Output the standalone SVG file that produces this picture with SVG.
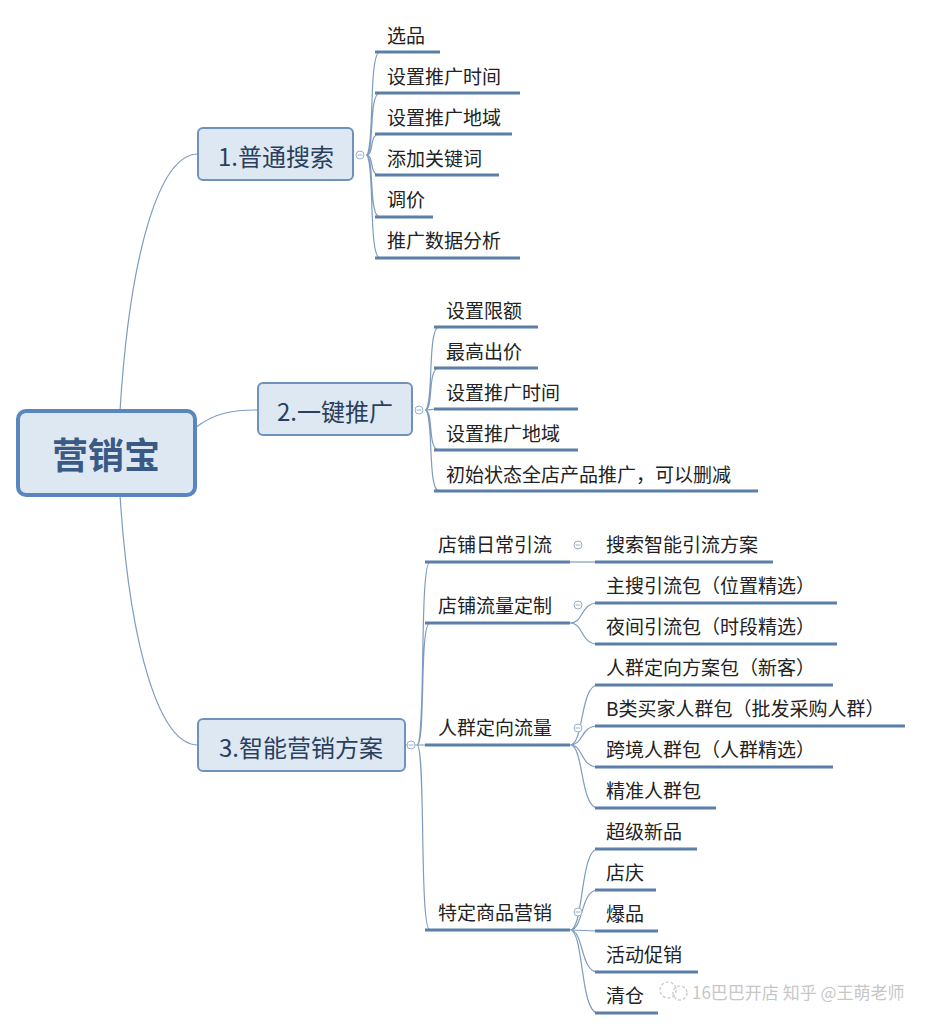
<svg xmlns="http://www.w3.org/2000/svg" width="929" height="1030" viewBox="0 0 929 1030">
<style>
text{font-family:"Noto Sans CJK SC","Microsoft YaHei",sans-serif;fill:#222}
.t{font-size:19px}
.b{font-size:24px;fill:#2b3f5c}
.u{stroke:#5b7fa8;stroke-width:3;fill:none}
.c{stroke:#7f9cbf;stroke-width:1.2;fill:none}
.box{fill:#dde8f3;stroke:#6f92bd;stroke-width:2}
.k{fill:#fff;stroke:#9ab0c9;stroke-width:1}
.m{stroke:#9ab0c9;stroke-width:1}
</style>
<rect width="929" height="1030" fill="#fff"/>
<g id="connectors">
<path class="c" d="M120,411 C130,250 160,154 198,154"/>
<path class="c" d="M195,428 C215,412 235,410 258,410"/>
<path class="c" d="M120,495 C130,650 160,745 198,745"/>
<path class="c" d="M366,155 C375,155 368,52 380,52 M366,155 C375,155 368,93 380,93 M366,155 C375,155 368,134 380,134 M366,155 C375,155 368,175 380,175 M366,155 C375,155 368,217 380,217 M366,155 C375,155 368,258 380,258"/>
<path class="c" d="M425,410 C434,410 427,327 439,327 M425,410 C434,410 427,368 439,368 M425,410 C434,410 427,409 439,409 M425,410 C434,410 427,450 439,450 M425,410 C434,410 427,491 439,491"/>
<path class="c" d="M405,745 L417,745 M417,745 C426,745 419,562 430,562 M417,745 C426,745 419,623 430,623 M417,745 L430,745 M417,745 C426,745 419,930 430,930"/>
<path class="c" d="M570,562 L595,562"/>
<path class="c" d="M570,623 C584,623 580,603 598,603 M570,623 C584,623 580,644 598,644"/>
<path class="c" d="M570,745 C584,745 580,685 598,685 M570,745 C584,745 580,726 598,726 M570,745 C584,745 580,767 598,767 M570,745 C584,745 580,808 598,808"/>
<path class="c" d="M570,930 C584,930 580,849 598,849 M570,930 C584,930 580,890 598,890 M570,930 L598,931 M570,930 C584,930 580,972 598,972 M570,930 C584,930 580,1013 598,1013"/>
</g>
<g id="root"><rect x="18" y="411" width="177" height="84" rx="8" fill="#dde8f3" stroke="#5b86bd" stroke-width="4"/><text x="106" y="469" text-anchor="middle" style="font-size:36px;font-weight:bold;fill:#3a5a85">营销宝</text></g>
<g id="b1"><rect class="box" x="198" y="128" width="155" height="52" rx="5"/><text class="b" x="276" y="166" text-anchor="middle">1.普通搜索</text><circle class="k" cx="360" cy="155" r="4"/><path class="m" d="M357.5,155H362.5"/></g>
<g id="b2"><rect class="box" x="258" y="383" width="154" height="52" rx="5"/><text class="b" x="335" y="421" text-anchor="middle">2.一键推广</text><circle class="k" cx="419" cy="410" r="4"/><path class="m" d="M416.5,410H421.5"/></g>
<g id="b3"><rect class="box" x="198" y="719" width="207" height="52" rx="5"/><text class="b" x="301" y="757" text-anchor="middle">3.智能营销方案</text><circle class="k" cx="411" cy="745" r="4"/><path class="m" d="M408.5,745H413.5"/></g>
<g id="b1c">
<path class="u" d="M375,52H440 M375,93H520 M375,134H512 M375,175H499 M375,217H433 M375,258H520"/>
<text class="t" x="387" y="43">选品</text><text class="t" x="387" y="84">设置推广时间</text><text class="t" x="387" y="125">设置推广地域</text><text class="t" x="387" y="166">添加关键词</text><text class="t" x="387" y="207">调价</text><text class="t" x="387" y="248">推广数据分析</text>
</g>
<g id="b2c">
<path class="u" d="M434,327H538 M434,368H538 M434,409H578 M434,450H578 M434,491H758"/>
<text class="t" x="446" y="318">设置限额</text><text class="t" x="446" y="359">最高出价</text><text class="t" x="446" y="400">设置推广时间</text><text class="t" x="446" y="441">设置推广地域</text><text class="t" x="446" y="482">初始状态全店产品推广，可以删减</text>
</g>
<g id="b3c">
<path class="u" d="M425,562H570 M425,623H570 M425,745H570 M425,930H570"/>
<text class="t" x="438" y="552">店铺日常引流</text><text class="t" x="438" y="613">店铺流量定制</text><text class="t" x="438" y="735">人群定向流量</text><text class="t" x="438" y="920">特定商品营销</text>
<circle class="k" cx="578" cy="545" r="4"/><path class="m" d="M575.5,545H580.5"/>
<circle class="k" cx="578" cy="605" r="4"/><path class="m" d="M575.5,605H580.5"/>
<circle class="k" cx="578" cy="728" r="4"/><path class="m" d="M575.5,728H580.5"/>
<circle class="k" cx="578" cy="912" r="4"/><path class="m" d="M575.5,912H580.5"/>
</g>
<g id="b3l3">
<path class="u" d="M595,562H773 M595,603H837 M595,644H837 M595,685H833 M595,726H905 M595,767H833 M595,808H716 M595,849H697 M595,890H656 M595,931H658 M595,972H698 M595,1013H658"/>
<text class="t" x="606" y="552">搜索智能引流方案</text><text class="t" x="606" y="593">主搜引流包（位置精选）</text><text class="t" x="606" y="634">夜间引流包（时段精选）</text><text class="t" x="606" y="675">人群定向方案包（新客）</text><text class="t" x="606" y="716">B类买家人群包（批发采购人群）</text><text class="t" x="606" y="757">跨境人群包（人群精选）</text><text class="t" x="606" y="798">精准人群包</text><text class="t" x="606" y="839">超级新品</text><text class="t" x="606" y="880">店庆</text><text class="t" x="606" y="921">爆品</text><text class="t" x="606" y="962">活动促销</text><text class="t" x="606" y="1003">清仓</text>
</g>
<g id="watermark" opacity="0.55">
<circle cx="668" cy="990" r="8" fill="none" stroke="#aaa" stroke-width="1.5" stroke-dasharray="3 2"/>
<circle cx="680" cy="993" r="7" fill="none" stroke="#aaa" stroke-width="1.5" stroke-dasharray="3 2"/>
<text x="692" y="999" style="font-size:17px;fill:#999">16巴巴开店 知乎 @王萌老师</text>
</g>
</svg>
